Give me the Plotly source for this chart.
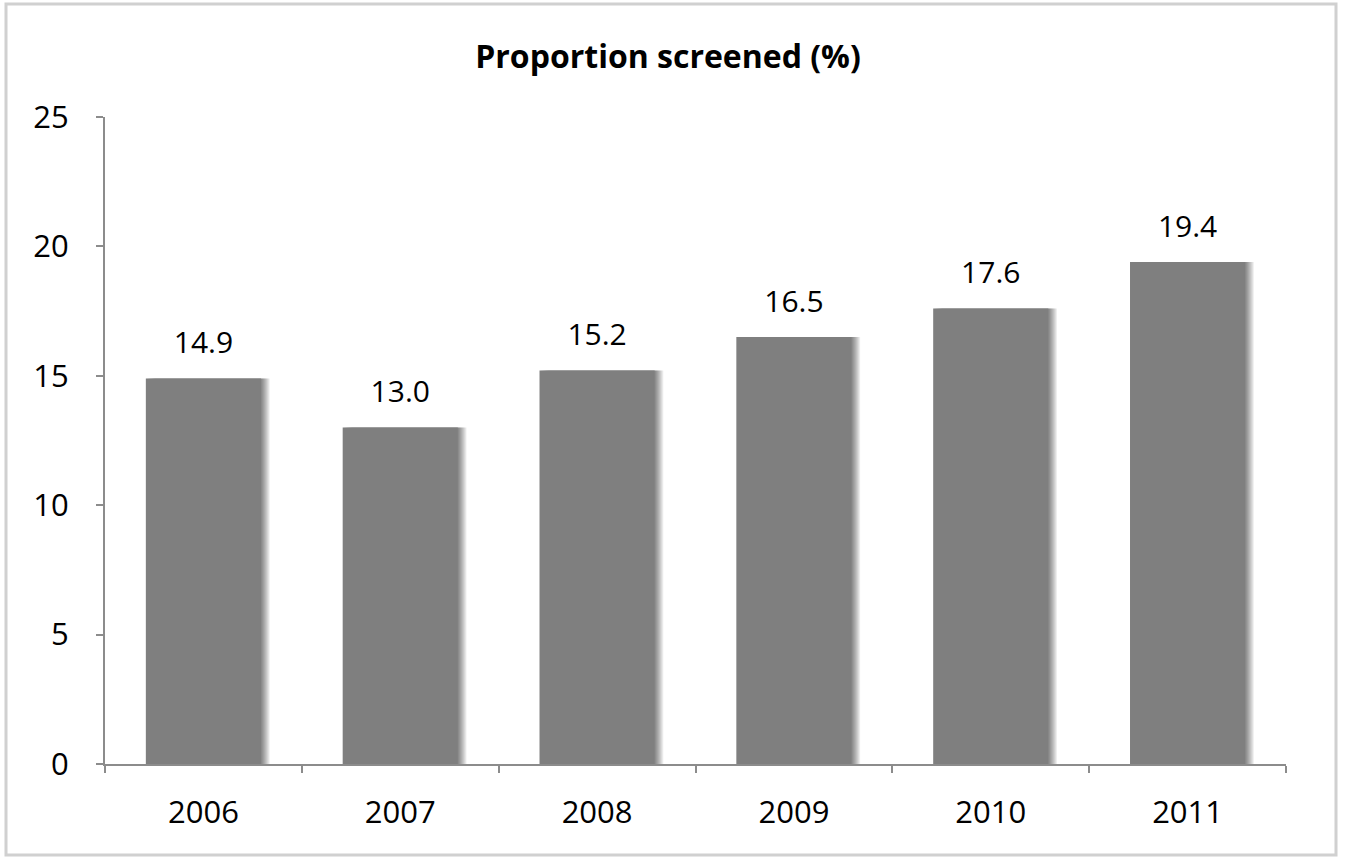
import plotly.graph_objects as go

years = ["2006", "2007", "2008", "2009", "2010", "2011"]
proportion = [14.9, 13.0, 15.2, 16.5, 17.6, 19.4]
y_ticks = [0, 5, 10, 15, 20, 25]
title_text = "Proportion screened (%)"

FONT = "Open Sans"
BAR_W = 0.585
fig = go.Figure()

# soft shadow layers (behind bars)
n_layers = 8
for k in range(n_layers, 0, -1):
    dx = 0.0055 * k
    fig.add_trace(go.Bar(
        x=years, y=proportion, width=BAR_W, offset=-BAR_W / 2 + dx,
        marker=dict(color="rgba(0,0,0,0.07)", line=dict(width=0)),
        hoverinfo="skip", showlegend=False,
    ))

fig.add_trace(go.Bar(
    x=years, y=proportion, width=BAR_W, offset=-BAR_W / 2,
    marker=dict(color="#7f7f7f", line=dict(width=0)), showlegend=False,
))

# value labels
fig.add_trace(go.Scatter(
    x=years, y=proportion, mode="markers+text",
    text=[f"{v:.1f}" for v in proportion], textposition="top center",
    marker=dict(size=27, color="rgba(0,0,0,0)"),
    textfont=dict(family=FONT, size=30, color="#000000"),
    hoverinfo="skip", showlegend=False, cliponaxis=False,
))

fig.update_layout(
    width=1345, height=857,
    margin=dict(l=105, r=59, t=117, b=93),
    paper_bgcolor="white", plot_bgcolor="white",
    barmode="overlay",
    title=dict(text=f"<b>{title_text}</b>", x=668 / 1345, xref="container", xanchor="center",
               y=1 - 57 / 857, yref="container", yanchor="middle",
               font=dict(family=FONT, size=32, color="#000000")),
    font=dict(family=FONT, color="#000000"),
    xaxis=dict(type="category", showgrid=False, showline=True, linecolor="#8c8c8c", linewidth=2,
               ticks="outside", ticklen=7, tickcolor="#8c8c8c", tickwidth=2, tickson="boundaries",
               tickfont=dict(family=FONT, size=31), ticklabelstandoff=20, range=[-0.5, 5.5]),
    yaxis=dict(range=[0, 25], tickvals=y_ticks, showgrid=False, showline=True, linecolor="#8c8c8c",
               linewidth=2, ticks="outside", ticklen=7, tickcolor="#8c8c8c", tickwidth=2,
               tickfont=dict(family=FONT, size=31), ticklabelstandoff=21, zeroline=False),
)

# outer chart border
fig.add_shape(type="rect", xref="paper", yref="paper",
              x0=(6 - 105) / 1181, x1=(1336 - 105) / 1181,
              y0=(764 - 855) / 647, y1=(764 - 4) / 647,
              line=dict(color="#d0d0d0", width=3), layer="below")

fig.write_html("out.html")
